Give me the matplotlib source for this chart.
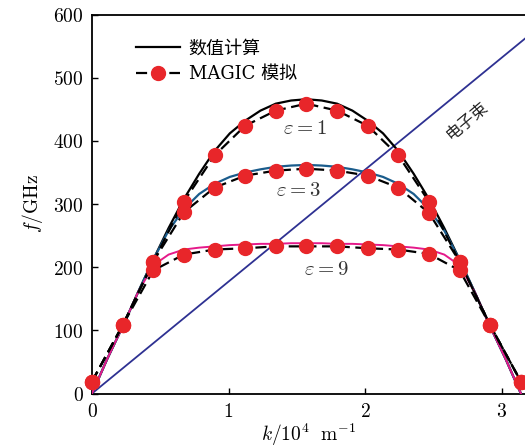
import numpy as np
import matplotlib
matplotlib.use("Agg")
import matplotlib.pyplot as plt
from matplotlib.lines import Line2D

plt.rcParams['mathtext.fontset'] = 'cm'

# ---- data ----
k_sim = [n * np.pi / 14 for n in range(15)]
magic_e1 = [19, 108, 209, 304, 377, 424, 448, 459, 448, 424, 377, 304, 209, 108, 19]
magic_e3 = [19, 108, 209, 287, 326, 345, 353, 356, 353, 345, 326, 286, 209, 108, 19]
magic_e9 = [19, 108, 195, 220, 228, 230, 233, 233, 233, 230, 228, 221, 195, 108, 19]

k_th = [n * np.pi / 28 for n in range(29)]
th_e1 = [0, 55, 106, 160, 212, 262, 308, 348, 384, 412, 432, 448, 459, 464, 466,
         464, 459, 448, 432, 412, 384, 348, 308, 262, 212, 160, 106, 55, 0]
th_e3 = [0, 55, 106, 160, 212, 258, 292, 316, 332, 343, 350, 355, 359, 361, 362,
         361, 359, 355, 350, 343, 332, 316, 292, 258, 212, 160, 106, 55, 0]
th_e9 = [0, 55, 106, 160, 203, 220, 228, 231, 233, 235, 236, 237, 237, 238, 238,
         238, 237, 237, 236, 235, 233, 231, 228, 220, 203, 160, 106, 55, 0]

beam_k = [0, 3.2]
beam_f = [0, 567]

xticks = [0, 1, 2, 3]
yticks = [0, 100, 200, 300, 400, 500, 600]

legend_labels = ['数值计算', 'MAGIC 模拟']
eps_labels = [r'$\varepsilon=1$', r'$\varepsilon=3$', r'$\varepsilon=9$']
eps_pos = [(1.56, 421), (1.51, 322), (1.72, 197)]

# ---- figure ----
fig = plt.figure(figsize=(5.25, 4.48), dpi=100)
ax = fig.add_axes([92/525, 54.5/448, (525-92)/525, 0.8457])

red = '#e8262a'
ax.plot(beam_k, beam_f, color='#2e3192', lw=1.3, zorder=2)
ax.plot(k_th, th_e1, color='black', lw=1.6, zorder=3)
ax.plot(k_th, th_e3, color='#1a5c8c', lw=1.6, zorder=3)
ax.plot(k_th, th_e9, color='#e5198a', lw=1.4, zorder=3)
for m in (magic_e1, magic_e3, magic_e9):
    ax.plot(k_sim, m, color='black', lw=1.6, ls=(0, (5, 2.5)), zorder=4)
    ax.plot(k_sim, m, ls='none', marker='o', ms=10, color=red, mec=red, zorder=5, clip_on=False)

for lab, (x, y) in zip(eps_labels, eps_pos):
    ax.text(x, y, lab, ha='center', va='center', fontsize=15, color='#333333')
ax.text(2.75, 432, '电子束', rotation=40, ha='center', va='center', fontsize=12,
        family=['Noto Sans CJK SC'], color='#222222')

ax.set_xlim(0, 3.172)
ax.set_ylim(0, 600)
ax.set_xticks(xticks)
ax.set_xticklabels([r'$%d$' % v for v in xticks])
ax.set_yticks(yticks)
ax.set_yticklabels([r'$%d$' % v for v in yticks])
ax.tick_params(direction='in', length=4, width=1, labelsize=14, pad=6)
ax.spines['right'].set_visible(False)
for s in ('left', 'bottom', 'top'):
    ax.spines[s].set_linewidth(1.3)

ax.set_ylabel(r'$f/\mathrm{GHz}$', fontsize=14, labelpad=6)
ax.set_xlabel(r'$k/10^4\ \ \mathrm{m}^{-1}$', fontsize=14, labelpad=1)

h1 = Line2D([], [], color='black', lw=1.6)
h2 = Line2D([], [], color='black', lw=1.6, ls=(0, (5, 2.5)), marker='o', ms=10, mfc=red, mec=red)
leg = ax.legend([h1, h2], legend_labels, loc='upper left', bbox_to_anchor=(0.065, 0.978),
                frameon=False, handlelength=2.4, handletextpad=0.5, labelspacing=0.45,
                prop={'family': ['DejaVu Serif', 'Noto Sans CJK SC'], 'size': 13})

fig.savefig('out.png', dpi=100)
